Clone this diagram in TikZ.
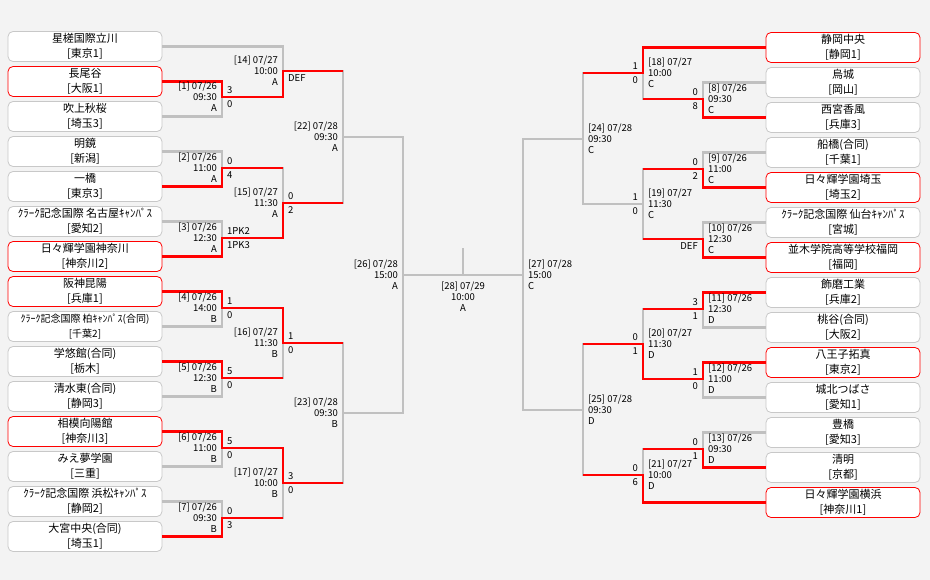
\documentclass[tikz,border=0pt]{standalone}
\usepackage{fontspec}
\setmainfont{Noto Sans CJK JP}
\usepackage{tikz}
\definecolor{bg}{RGB}{243,243,243}
\definecolor{linegray}{RGB}{192,192,192}
\definecolor{boxgray}{RGB}{200,200,200}

\begin{document}
\begin{tikzpicture}[x=1pt, y=-1pt,
  team/.style={draw=boxgray, fill=white, rounded corners=5pt, line width=0.8pt,
    minimum width=154pt, minimum height=30pt, inner sep=0pt, align=center,
    font=\fontsize{11}{15}\selectfont},
  alive/.style={team, draw=red},
  teamsmall/.style={team, font=\fontsize{10}{15}\selectfont},
  tie/.style={draw=linegray, line width=2.2pt},
  win/.style={draw=red, line width=2.6pt},
  lgame/.style={anchor=east, align=right, inner sep=0pt, font=\fontsize{9.5}{11}\selectfont},
  rgame/.style={lgame, anchor=west, align=left},
  lscore/.style={anchor=west, inner sep=0pt, font=\fontsize{9.5}{11}\selectfont},
  rscore/.style={lscore, anchor=east}]
  \fill[bg] (0,0) rectangle (930,580);
  % teams
  \foreach \nm/\pf/\st [count=\i from 0] in {星槎国際立川/東京1/team, 長尾谷/大阪1/alive,
      吹上秋桜/埼玉3/team, 明鏡/新潟/team, 一橋/東京3/team, ｸﾗｰｸ記念国際 名古屋ｷｬﾝﾊﾟｽ/愛知2/team,
      日々輝学園神奈川/神奈川2/alive, 阪神昆陽/兵庫1/alive, ｸﾗｰｸ記念国際 柏ｷｬﾝﾊﾟｽ(合同)/千葉2/teamsmall,
      学悠館(合同)/栃木/team, 清水東(合同)/静岡3/team, 相模向陽館/神奈川3/alive, みえ夢学園/三重/team,
      ｸﾗｰｸ記念国際 浜松ｷｬﾝﾊﾟｽ/静岡2/team, 大宮中央(合同)/埼玉1/team}
    \node[\st] (l\i) at (85, 46.5+35*\i) {\nm\\{}[\pf]};
  \foreach \nm/\pf/\st [count=\i from 0] in {静岡中央/静岡1/alive, 烏城/岡山/team, 西宮香風/兵庫3/team,
      船橋(合同)/千葉1/team, 日々輝学園埼玉/埼玉2/alive, ｸﾗｰｸ記念国際 仙台ｷｬﾝﾊﾟｽ/宮城/team,
      並木学院高等学校福岡/福岡/alive, 飾磨工業/兵庫2/team, 桃谷(合同)/大阪2/team, 八王子拓真/東京2/alive,
      城北つばさ/愛知1/team, 豊橋/愛知3/team, 清明/京都/team, 日々輝学園横浜/神奈川1/alive}
    \node[\st] (r\i) at (843, 47.5+35*\i) {\nm\\{}[\pf]};
  % games
  \foreach \g/\x/\y in {g1/222/97, g2/222/168, g3/222/238, g4/222/308, g5/222/378, g6/222/448,
      g7/222/518, g14/283/71, g15/283/203, g16/283/343, g17/283/483, g22/343/137, g23/343/413,
      g26/403/275, g8/703/99, g9/703/169, g10/703/239, g11/703/309, g12/703/379, g13/703/449,
      g18/643/73, g19/643/204, g20/643/344, g21/643/475, g24/583/139, g25/583/410, g27/523/275,
      g28/463/275, champ/463/248}
    \coordinate (\g) at (\x,\y);
  \foreach \a/\b/\g in {l1.east/l2.east/g1, l3.east/l4.east/g2, l5.east/l6.east/g3,
      l7.east/l8.east/g4, l9.east/l10.east/g5, l11.east/l12.east/g6, l13.east/l14.east/g7,
      l0.east/g1/g14, g2/g3/g15, g4/g5/g16, g6/g7/g17, g14/g15/g22, g16/g17/g23, g22/g23/g26,
      r1.west/r2.west/g8, r3.west/r4.west/g9, r5.west/r6.west/g10, r7.west/r8.west/g11,
      r9.west/r10.west/g12, r11.west/r12.west/g13, r0.west/g8/g18, g9/g10/g19, g11/g12/g20,
      g13/r13.west/g21, g18/g19/g24, g20/g21/g25, g24/g25/g27}
    \draw[tie] (\a) -| (\g) (\b) -| (\g);
  \draw[tie] (g26) -- (g27) (g28) -- (champ);
  % winners
  \draw[win] (l1.east) -| (g1) -| (g14) -- (g14 -| g22)
    (l4.east) -| (g2) -- (g2 -| g15)
    (l6.east) -| (g3) -| (g15) -- (g15 -| g22)
    (l7.east) -| (g4) -| (g16) -- (g16 -| g23)
    (l9.east) -| (g5) -- (g5 -| g16)
    (l11.east) -| (g6) -| (g17) -- (g17 -| g23)
    (l14.east) -| (g7) -- (g7 -| g17);
  \draw[win] (r2.west) -| (g8) -- (g8 -| g18)
    (r0.west) -| (g18) -- (g18 -| g24)
    (r4.west) -| (g9) -- (g9 -| g19)
    (r6.west) -| (g10) -- (g10 -| g19)
    (r7.west) -| (g11) -- (g11 -| g20)
    (r9.west) -| (g12) -| (g20) -- (g20 -| g25)
    (r12.west) -| (g13) -- (g13 -| g21)
    (r13.west) -| (g21) -- (g21 -| g25);
  % game labels
  \foreach \gm/\nr/\dy/\tm/\ct in {g1/1/26/09:30/A, g2/2/26/11:00/A, g3/3/26/12:30/A,
      g4/4/26/14:00/B, g5/5/26/12:30/B, g6/6/26/11:00/B, g7/7/26/09:30/B, g14/14/27/10:00/A,
      g15/15/27/11:30/A, g16/16/27/11:30/B, g17/17/27/10:00/B, g22/22/28/09:30/A,
      g23/23/28/09:30/B, g26/26/28/15:00/A}
    \node[lgame] (t\nr) at ([xshift=-5pt]\gm) {[\nr] 07/\dy\\\tm\\\ct};
  \foreach \gm/\nr/\dy/\tm/\ct in {g8/8/26/09:30/C, g9/9/26/11:00/C, g10/10/26/12:30/C,
      g11/11/26/12:30/D, g12/12/26/11:00/D, g13/13/26/09:30/D, g18/18/27/10:00/C,
      g19/19/27/11:30/C, g20/20/27/11:30/D, g21/21/27/10:00/D, g24/24/28/09:30/C,
      g25/25/28/09:30/D, g27/27/28/15:00/C}
    \node[rgame] (t\nr) at ([xshift=5pt]\gm) {[\nr] 07/\dy\\\tm\\\ct};
  \node[lgame, anchor=north, align=center] (t28) at ([yshift=-7pt]g28) {[28] 07/29\\10:00\\A};
  % scores
  \foreach \gm/\sa/\sb in {g1/3/0, g2/0/4, g3/1PK2/1PK3, g4/1/0, g5/5/0, g6/5/0, g7/0/3,
      g15/0/2, g16/1/0, g17/3/0} {
    \node[lscore] (\gm-a) at ([shift={(5,-7)}]\gm) {\sa};
    \node[lscore] (\gm-b) at ([shift={(5,7)}]\gm) {\sb};
  }
  \foreach \gm/\sa/\sb in {g8/0/8, g9/0/2, g11/3/1, g12/1/0, g13/0/1, g18/1/0, g19/1/0,
      g20/0/1, g21/0/6} {
    \node[rscore] (\gm-a) at ([shift={(-5,-7)}]\gm) {\sa};
    \node[rscore] (\gm-b) at ([shift={(-5,7)}]\gm) {\sb};
  }
  \node[lscore] (g14-b) at ([shift={(5,7)}]g14) {DEF};
  \node[rscore] (g10-b) at ([shift={(-5,7)}]g10) {DEF};
\end{tikzpicture}
\end{document}
